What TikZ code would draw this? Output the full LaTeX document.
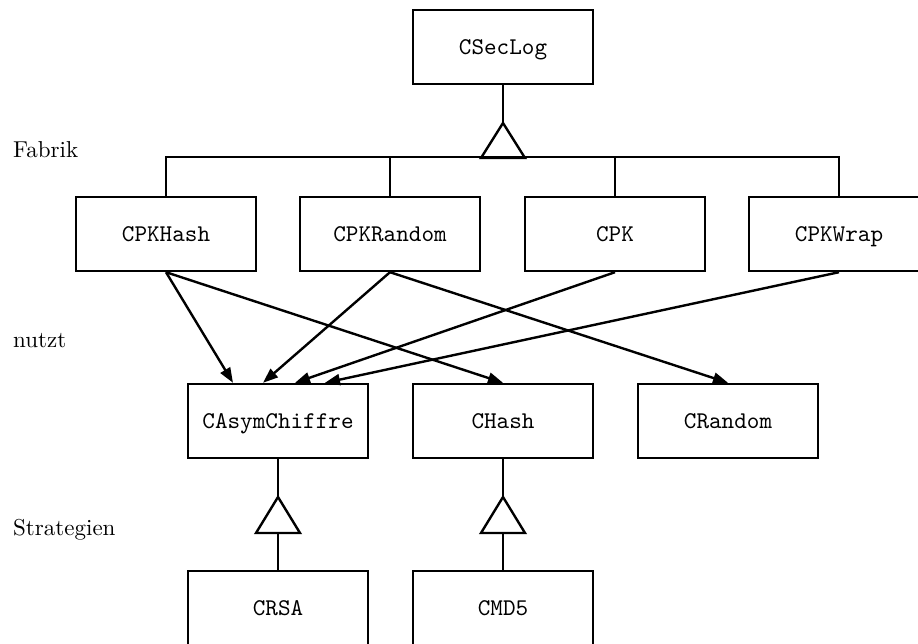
\documentclass[tikz,border=0pt]{standalone}
\usepackage{fontspec}
\usepackage{graphicx}
\usetikzlibrary{arrows.meta,calc}

% class names and layer labels are set at design size and enlarged
\newcommand\clsname[1]{\scalebox{2.4}{\ttfamily\fontsize{10}{12}\selectfont #1}}
\newcommand\layername[1]{\scalebox{2.3}{\rmfamily\fontsize{10}{12}\selectfont #1}}

\tikzset{
  cls/.style={draw, line width=2.4pt, minimum width=180pt, minimum height=74pt,
              inner sep=0pt, text height=14.7pt, text depth=0pt},
  lbl/.style={anchor=base west, inner sep=0pt},
  conn/.style={line width=2.4pt},
  uses/.style={line width=2.4pt, -{Triangle[length=15pt,width=11pt]}},
  gen/.style={line width=2.4pt, line join=miter}
}

\begin{document}
\begin{tikzpicture}[x=1pt,y=-1pt]
  \useasboundingbox (0,0) rectangle (918,644);

  % layer labels
  \node[lbl] (lfab) at (13,158) {\layername{Fabrik}};
  \node[lbl] (lnutzt) at (13,347) {\layername{nutzt}};
  \node[lbl] (lstrat) at (13,535) {\layername{Strategien}};

  % classes
  \node[cls] (sec) at (503,47) {\clsname{CSecLog}};

  \node[cls] (pkhash) at (166,234) {\clsname{CPKHash}};
  \node[cls] (pkrand) at (390,234) {\clsname{CPKRandom}};
  \node[cls] (pk)     at (615,234) {\clsname{CPK}};
  \node[cls] (pkwrap) at (839,234) {\clsname{CPKWrap}};

  \node[cls] (asym)  at (278,421) {\clsname{CAsymChiffre}};
  \node[cls] (hash)  at (503,421) {\clsname{CHash}};
  \node[cls] (rand)  at (728,421) {\clsname{CRandom}};

  \node[cls] (rsa) at (278,608) {\clsname{CRSA}};
  \node[cls] (md5) at (503,608) {\clsname{CMD5}};

  % generalisation: factory classes under CSecLog
  \coordinate (t1) at (503,123);
  \draw[conn] (sec.south) -- (t1);
  \draw[gen] (t1) -- ++(-22,35) -- ++(44,0) -- cycle;
  \draw[conn] (pkhash.north) -- ++(0,-39) -| (pkwrap.north);
  \draw[conn] (pkrand.north) -- ++(0,-39);
  \draw[conn] (pk.north) -- ++(0,-39);

  % usage relations
  \draw[uses] (pkhash.south) -- ($(asym.north)+(-45,0)$);
  \draw[uses] (pkhash.south) -- (hash.north);
  \draw[uses] (pkrand.south) -- ($(asym.north)+(-15,0)$);
  \draw[uses] (pkrand.south) -- (rand.north);
  \draw[uses] (pk.south) -- ($(asym.north)+(17,0)$);
  \draw[uses] (pkwrap.south) -- ($(asym.north)+(47,0)$);

  % generalisation: strategies
  \coordinate (t2) at (278,497);
  \coordinate (b2) at (278,533);
  \draw[conn] (asym.south) -- (t2);
  \draw[gen] (t2) -- ++(-22,36) -- ++(44,0) -- cycle;
  \draw[conn] (b2) -- (rsa.north);

  \coordinate (t3) at (503,497);
  \coordinate (b3) at (503,533);
  \draw[conn] (hash.south) -- (t3);
  \draw[gen] (t3) -- ++(-22,36) -- ++(44,0) -- cycle;
  \draw[conn] (b3) -- (md5.north);
\end{tikzpicture}
\end{document}
